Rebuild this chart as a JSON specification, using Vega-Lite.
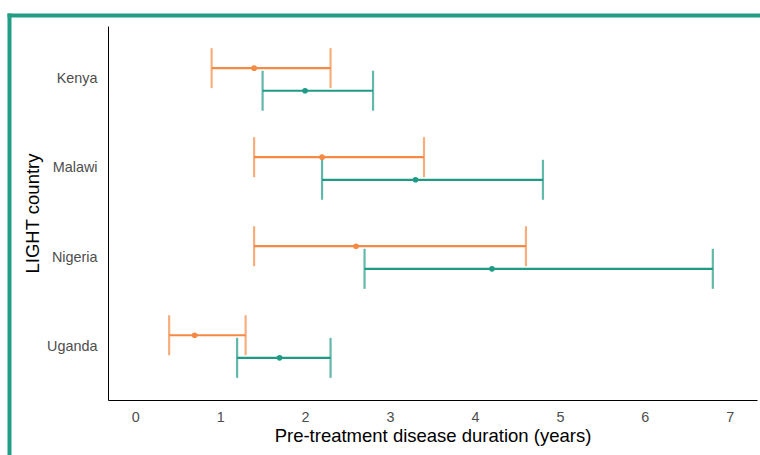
{
  "$schema": "https://vega.github.io/schema/vega-lite/v6.json",
  "width": 649,
  "height": 374,
  "padding": {"left": 6, "top": 12, "right": 0, "bottom": 0},
  "background": "white",
  "config": {
    "view": {"stroke": null},
    "font": "Liberation Sans"
  },
  "data": {
    "values": [
      {"country": "Kenya", "group": "Group 1", "mid": 1.4, "low": 0.9, "high": 2.3},
      {"country": "Kenya", "group": "Group 2", "mid": 2.0, "low": 1.5, "high": 2.8},
      {"country": "Malawi", "group": "Group 1", "mid": 2.2, "low": 1.4, "high": 3.4},
      {"country": "Malawi", "group": "Group 2", "mid": 3.3, "low": 2.2, "high": 4.8},
      {"country": "Nigeria", "group": "Group 1", "mid": 2.6, "low": 1.4, "high": 4.6},
      {"country": "Nigeria", "group": "Group 2", "mid": 4.2, "low": 2.7, "high": 6.8},
      {"country": "Uganda", "group": "Group 1", "mid": 0.7, "low": 0.4, "high": 1.3},
      {"country": "Uganda", "group": "Group 2", "mid": 1.7, "low": 1.2, "high": 2.3}
    ]
  },
  "layer": [
    {
      "encoding": {
        "y": {
          "field": "country", "type": "nominal",
          "sort": ["Kenya", "Malawi", "Nigeria", "Uganda"],
          "scale": {"type": "band", "paddingInner": 0, "paddingOuter": 0.1},
          "axis": {
            "title": "LIGHT country", "titleFontSize": 18.5, "titleFontWeight": "normal", "titleColor": "#000000",
            "titlePadding": 4,
            "labelFontSize": 14.4, "labelColor": "#4d4d4d", "labelPadding": 11,
            "ticks": false, "domainColor": "#000000", "domainWidth": 1, "grid": false
          }
        },
        "yOffset": {
          "field": "group", "type": "nominal",
          "scale": {"paddingInner": 0, "paddingOuter": 0.97}
        },
        "color": {
          "field": "group", "type": "nominal",
          "scale": {"domain": ["Group 1", "Group 2"], "range": ["#F58A44", "#1F9A85"]},
          "legend": null
        }
      },
      "layer": [
        {
          "mark": {"type": "rule", "strokeWidth": 2.2},
          "encoding": {
            "x": {
              "field": "low", "type": "quantitative",
              "scale": {"domain": [-0.32, 7.32], "nice": false, "zero": false},
              "axis": {
                "title": "Pre-treatment disease duration (years)", "titleFontSize": 18.5, "titleFontWeight": "normal",
                "titleColor": "#000000", "titlePadding": 3,
                "values": [0, 1, 2, 3, 4, 5, 6, 7], "format": "d",
                "labelFontSize": 14.4, "labelColor": "#4d4d4d", "labelPadding": 10,
                "ticks": false, "domainColor": "#000000", "domainWidth": 1, "grid": false
              }
            },
            "x2": {"field": "high"}
          }
        },
        {
          "mark": {"type": "tick", "orient": "vertical", "size": 40, "thickness": 2.2},
          "encoding": {"x": {"field": "low", "type": "quantitative"}}
        },
        {
          "mark": {"type": "tick", "orient": "vertical", "size": 40, "thickness": 2.2},
          "encoding": {"x": {"field": "high", "type": "quantitative"}}
        },
        {
          "mark": {"type": "point", "filled": true, "size": 32, "opacity": 1},
          "encoding": {"x": {"field": "mid", "type": "quantitative"}}
        }
      ]
    },
    {
      "mark": {"type": "point", "opacity": 0},
      "encoding": {
        "x": {
          "datum": 1, "type": "quantitative",
          "scale": {"domain": [0, 1], "range": [-99, 649], "nice": false, "zero": false},
          "axis": {
            "orient": "top", "offset": 11, "title": null, "domain": false, "labels": false, "grid": false,
            "values": [0], "tickSize": -470, "tickWidth": 4, "tickColor": "#239C86", "tickCap": "square"
          }
        },
        "y": {
          "datum": 0, "type": "quantitative",
          "scale": {"domain": [0, 1], "range": [374, -11], "nice": false, "zero": false},
          "axis": {
            "orient": "left", "offset": 99, "title": null, "domain": false, "labels": false, "grid": false,
            "values": [1], "tickSize": -780, "tickWidth": 4, "tickColor": "#239C86", "tickCap": "square"
          }
        }
      }
    }
  ],
  "resolve": {"scale": {"x": "independent", "y": "independent"}}
}
